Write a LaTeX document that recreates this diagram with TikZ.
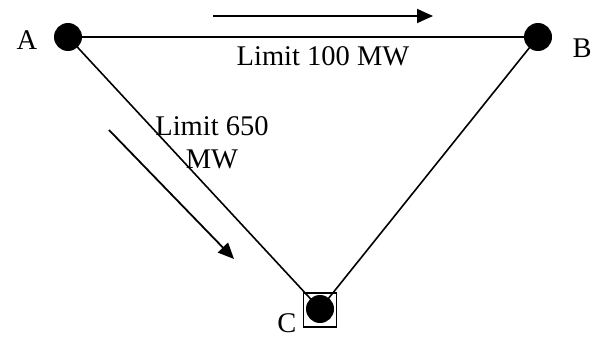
\documentclass[tikz,border=0pt]{standalone}
\usepackage{fontspec}
\setmainfont{Liberation Serif}
\usetikzlibrary{arrows.meta}
\begin{document}
\begin{tikzpicture}[x=1pt,y=1pt,
  bus/.style={circle,fill=black,minimum size=28pt,inner sep=0pt},
  line/.style={draw=black,line width=1.6pt},
  flow/.style={draw=black,line width=1.8pt,-{Triangle[length=16pt,width=14pt]}},
  lbl/.style={font=\fontsize{28.5}{32}\selectfont,inner sep=0pt}]
\useasboundingbox (0,0) rectangle (592,338);
\node[bus] (A) at (68,301) {};
\node[bus] (B) at (538,301) {};
\node[bus] (C) at (320,29) {};
\node[draw=black,line width=1.6pt,minimum width=33pt,minimum height=34pt,inner sep=0pt] (Cbox) at (320,28) {};
\draw[line] (A.center) -- (B.center);
\draw[line] (A.center) -- (C.center);
\draw[line] (B.center) -- (C.center);
\coordinate (f1s) at (213,322);
\coordinate (f1e) at (433,322);
\draw[flow] (f1s) -- (f1e);
\coordinate (f2s) at (109,208);
\coordinate (f2e) at (234,79);
\draw[flow] (f2s) -- (f2e);
\node[lbl,anchor=base] (la) at (27,288) {A};
\node[lbl,anchor=base] (lb) at (582,280) {B};
\node[lbl,anchor=base] (lc) at (287,6) {C};
\node[lbl,anchor=base] (l1) at (323,272) {Limit 100 MW};
\node[lbl,anchor=base] (l2) at (212,202) {Limit 650};
\node[lbl,anchor=base] (l3) at (212,169) {MW};
\end{tikzpicture}
\end{document}
